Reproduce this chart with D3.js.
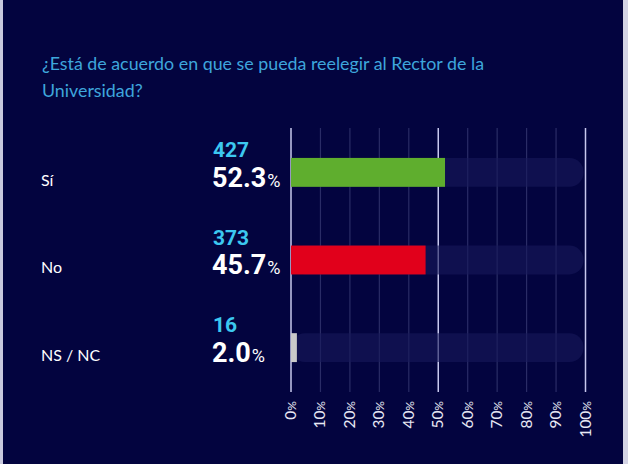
<!DOCTYPE html>
<html>
<head>
<meta charset="utf-8">
<script src="https://cdn.jsdelivr.net/npm/d3@7"></script>
<style>
  html, body { margin: 0; padding: 0; background: #03043f; }
  svg { display: block; }
</style>
</head>
<body>
<svg id="chart"></svg>
<script>
// data
var categories = ["Sí", "No", "NS / NC"];
var counts = [427, 373, 16];
var percents = [52.3, 45.7, 2.0];
var barColors = ["#5fae2e", "#e1001b", "#c9c9c9"];
var ticks = [0, 10, 20, 30, 40, 50, 60, 70, 80, 90, 100];
var titleLines = ["¿Está de acuerdo en que se pueda reelegir al Rector de la", "Universidad?"];

var width = 628, height = 464;
var bg = "#03043f";
var textFont = "Lato, 'Open Sans', sans-serif";
var numFont = "Roboto, 'DejaVu Sans', sans-serif";

var svg = d3.select("#chart")
  .attr("width", width)
  .attr("height", height);

svg.append("rect").attr("width", width).attr("height", height).attr("fill", bg);
// light frame strips left and right
svg.append("rect").attr("x", 0).attr("y", 0).attr("width", 3).attr("height", height).attr("fill", "#c9c9dd");
svg.append("rect").attr("x", 623).attr("y", 0).attr("width", 5).attr("height", height).attr("fill", "#d4d4e4");

// title, fitted to the width of the first line in the original
var title = svg.append("g").selectAll("text")
  .data(titleLines)
  .enter().append("text")
  .attr("x", 42)
  .attr("y", function (d, i) { return 70 + i * 27; })
  .attr("fill", "#3ea6dc")
  .style("font-family", textFont)
  .style("font-size", "18px")
  .text(function (d) { return d; });
var squeeze = 442 / title.nodes()[0].getComputedTextLength();
title.each(function () {
  var w = this.getComputedTextLength();
  d3.select(this).attr("textLength", w * squeeze).attr("lengthAdjust", "spacingAndGlyphs");
});

var x = d3.scaleLinear().domain([0, 100]).range([291, 585.5]);
var y = d3.scaleBand().domain(categories).range([129, 391]).paddingInner(0.67).paddingOuter(0.33);

// grid
svg.append("g").selectAll("line")
  .data(ticks)
  .enter().append("line")
  .attr("x1", function (d) { return x(d); })
  .attr("x2", function (d) { return x(d); })
  .attr("y1", 128)
  .attr("y2", 392)
  .attr("stroke", function (d) { return d % 50 === 0 ? "#c8c8ee" : "#2a2c66"; })
  .attr("stroke-width", function (d) { return d % 50 === 0 ? 1.5 : 1.2; });

// tracks
svg.append("g").selectAll("rect")
  .data(categories)
  .enter().append("rect")
  .attr("x", x(0))
  .attr("y", function (d) { return y(d); })
  .attr("width", x(100) - x(0) - 2)
  .attr("height", y.bandwidth())
  .attr("rx", 14)
  .attr("fill", "#17195a")
  .attr("fill-opacity", 0.6);

// bars
svg.append("g").selectAll("rect")
  .data(categories)
  .enter().append("rect")
  .attr("x", x(0))
  .attr("y", function (d) { return y(d); })
  .attr("width", function (d, i) { return x(percents[i]) - x(0); })
  .attr("height", y.bandwidth())
  .attr("fill", function (d, i) { return barColors[i]; });

// category labels
svg.append("g").selectAll("text")
  .data(categories)
  .enter().append("text")
  .attr("x", 41)
  .attr("y", function (d) { return y(d) + y.bandwidth() - 1; })
  .attr("fill", "#ffffff")
  .style("font-family", textFont)
  .style("font-size", "16px")
  .text(function (d) { return d; });

// counts
svg.append("g").selectAll("text")
  .data(categories)
  .enter().append("text")
  .attr("x", 213)
  .attr("y", function (d) { return y(d) - 1; })
  .attr("fill", "#3cc8f0")
  .style("font-family", numFont)
  .style("font-weight", "bold")
  .style("font-size", "21px")
  .text(function (d, i) { return counts[i]; });

// percentages
var pct = svg.append("g").selectAll("text")
  .data(categories)
  .enter().append("text")
  .attr("x", 212)
  .attr("y", function (d) { return y(d) + y.bandwidth(); })
  .attr("fill", "#ffffff")
  .style("font-family", numFont)
  .style("font-weight", "bold")
  .style("font-size", "27px");
pct.append("tspan").text(function (d, i) { return percents[i].toFixed(1); });
pct.append("tspan").attr("dx", 1).style("font-size", "18px").style("font-weight", "normal").text("%");

// tick labels, rotated
var tl = svg.append("g").selectAll("text")
  .data(ticks)
  .enter().append("text")
  .attr("transform", function (d) { return "translate(" + (x(d) + 5) + ",401) rotate(-90)"; })
  .attr("text-anchor", "end")
  .attr("fill", "#e8e8f4")
  .style("font-family", textFont)
  .style("font-size", "15.5px");
tl.append("tspan").text(function (d) { return d; });
tl.append("tspan").style("font-size", "12px").text("%");
</script>
</body>
</html>
